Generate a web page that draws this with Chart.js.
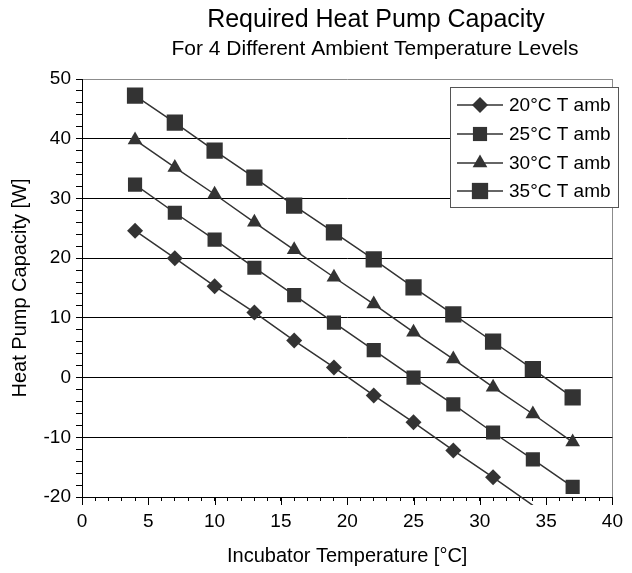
<!DOCTYPE html>
<html>
<head>
<meta charset="utf-8">
<script src="https://cdn.jsdelivr.net/npm/chart.js@4/dist/chart.umd.min.js"></script>
<style>
  html, body { margin: 0; padding: 0; background: #ffffff; }
  #wrap { width: 632px; height: 573px; }
</style>
</head>
<body>
<div id="wrap"><canvas id="c" width="632" height="573"></canvas></div>
<script>
// ---- data ----
const xTemps = [4, 7, 10, 13, 16, 19, 22, 25, 28, 31, 34, 37];
const amb20 = [24.6, 20.0, 15.3, 10.9, 6.2, 1.7, -3.0, -7.5, -12.2, -16.7, -21.4];
const amb25 = [32.3, 27.6, 23.1, 18.4, 13.8, 9.2, 4.6, 0.0, -4.5, -9.2, -13.7, -18.3];
const amb30 = [39.8, 35.2, 30.7, 26.0, 21.4, 16.8, 12.3, 7.6, 3.1, -1.6, -6.1, -10.8];
const amb35 = [47.2, 42.7, 38.0, 33.5, 28.8, 24.3, 19.8, 15.1, 10.6, 6.0, 1.4, -3.3];
const seriesLabels = ['20°C T amb', '25°C T amb', '30°C T amb', '35°C T amb'];
const xTickLabels = [0, 5, 10, 15, 20, 25, 30, 35, 40];
const yTickLabels = [-20, -10, 0, 10, 20, 30, 40, 50];
const titleText = 'Required Heat Pump Capacity';
const subtitleText = 'For 4 Different Ambient Temperature Levels';
const xTitle = 'Incubator Temperature [°C]';
const yTitle = 'Heat Pump Capacity [W]';

const FONT = '"Liberation Sans", Arial, sans-serif';
const INK = '#333333';

function pts(vals) { return vals.map((v, i) => ({ x: xTemps[i], y: v })); }

const styles = [
  { pointStyle: 'rectRot', radius: 8 },
  { pointStyle: 'rect', radius: 10 },
  { pointStyle: 'triangle', radius: 8.5 },
  { pointStyle: 'rect', radius: 11.5 }
];
const allSeries = [amb20, amb25, amb30, amb35];

const datasets = allSeries.map((vals, i) => ({
  label: seriesLabels[i],
  data: pts(vals),
  borderColor: INK,
  borderWidth: 1.5,
  backgroundColor: INK,
  pointBackgroundColor: INK,
  pointBorderColor: INK,
  pointBorderWidth: 0,
  pointStyle: styles[i].pointStyle,
  pointRadius: (ctx) => (ctx.raw && ctx.raw.y < -20 ? 0 : styles[i].radius),
  pointHoverRadius: styles[i].radius,
  tension: 0,
  fill: false,
  clip: { left: 20, top: 20, right: 20, bottom: 8 }
}));

function drawMarker(ctx, style, r, x, y) {
  ctx.beginPath();
  if (style === 'rect') {
    const s = Math.SQRT1_2 * r;
    ctx.rect(x - s, y - s, 2 * s, 2 * s);
  } else if (style === 'rectRot') {
    ctx.moveTo(x, y - r); ctx.lineTo(x + r, y); ctx.lineTo(x, y + r); ctx.lineTo(x - r, y); ctx.closePath();
  } else if (style === 'triangle') {
    let a = -Math.PI / 2;
    ctx.moveTo(x + Math.cos(a) * r, y + Math.sin(a) * r);
    a += 2 * Math.PI / 3; ctx.lineTo(x + Math.cos(a) * r, y + Math.sin(a) * r);
    a += 2 * Math.PI / 3; ctx.lineTo(x + Math.cos(a) * r, y + Math.sin(a) * r);
    ctx.closePath();
  }
  ctx.fill();
}

const decorPlugin = {
  id: 'decor',
  afterDraw(chart) {
    const ctx = chart.ctx;
    const xs = chart.scales.x;
    // longer major ticks on x axis
    ctx.save();
    ctx.strokeStyle = '#000';
    ctx.lineWidth = 1;
    xTickLabels.forEach(v => {
      const px = Math.round(xs.getPixelForValue(v)) + 0.5;
      ctx.beginPath();
      ctx.moveTo(px, chart.chartArea.bottom);
      ctx.lineTo(px, chart.chartArea.bottom + 8);
      ctx.stroke();
    });
    ctx.restore();

    // titles
    ctx.save();
    ctx.fillStyle = '#000';
    ctx.textAlign = 'center';
    ctx.textBaseline = 'middle';
    ctx.font = '25px ' + FONT;
    ctx.fillText(titleText, 376, 20);
    ctx.font = '21px ' + FONT;
    ctx.fillText(subtitleText, 375, 49);
    ctx.restore();

    // legend
    const L = 450, T = 87, R = 618, B = 207;
    ctx.save();
    ctx.fillStyle = '#fff';
    ctx.fillRect(L, T, R - L, B - T);
    ctx.strokeStyle = '#555';
    ctx.lineWidth = 1;
    ctx.strokeRect(L + 0.5, T + 0.5, R - L, B - T);
    const rowY = [105, 134, 163, 191];
    ctx.font = '19px ' + FONT;
    ctx.textBaseline = 'middle';
    ctx.textAlign = 'left';
    seriesLabels.forEach((lab, i) => {
      const y = rowY[i];
      ctx.strokeStyle = INK;
      ctx.lineWidth = 1.5;
      ctx.beginPath();
      ctx.moveTo(457, y); ctx.lineTo(503, y);
      ctx.stroke();
      ctx.fillStyle = INK;
      drawMarker(ctx, styles[i].pointStyle, styles[i].radius, 480, y);
      ctx.fillStyle = '#000';
      ctx.fillText(lab, 509, y + 1);
    });
    ctx.restore();
  }
};

new Chart(document.getElementById('c'), {
  type: 'line',
  data: { datasets },
  plugins: [decorPlugin],
  options: {
    responsive: false,
    animation: false,
    events: [],
    layout: { padding: { top: 79, right: 12, left: 0, bottom: 0 } },
    plugins: {
      legend: { display: false },
      title: { display: false },
      tooltip: { enabled: false }
    },
    scales: {
      x: {
        type: 'linear',
        min: 0, max: 40,
        afterFit: (s) => { s.height = 76; },
        ticks: {
          stepSize: 1,
          autoSkip: false,
          maxRotation: 0,
          padding: 9,
          color: '#000',
          font: { family: FONT, size: 19 },
          callback: (v) => (xTickLabels.includes(v) ? String(v) : '')
        },
        grid: {
          drawOnChartArea: true,
          color: (c) => (c.tick && c.tick.value === 40 ? '#8c8c8c' : 'rgba(0,0,0,0)'),
          tickColor: '#000',
          tickLength: 4,
          lineWidth: 1
        },
        border: { display: true, color: '#000', width: 1 },
        title: {
          display: true, text: xTitle, color: '#000',
          font: { family: FONT, size: 20 },
          padding: { top: 4, bottom: 5 }
        }
      },
      y: {
        type: 'linear',
        min: -20, max: 50,
        afterFit: (s) => { s.width = 82; },
        ticks: {
          stepSize: 2,
          autoSkip: false,
          padding: 5,
          color: '#000',
          font: { family: FONT, size: 19 },
          callback: (v) => (yTickLabels.includes(v) ? String(v) : '')
        },
        grid: {
          color: (c) => {
            if (!c.tick) return 'rgba(0,0,0,0)';
            const v = c.tick.value;
            if (v === 50) return '#8c8c8c';
            return (v % 10 === 0) ? '#000' : 'rgba(0,0,0,0)';
          },
          tickColor: '#000',
          tickLength: 6,
          lineWidth: 1
        },
        border: { display: true, color: '#000', width: 1 },
        title: {
          display: true, text: yTitle, color: '#000',
          font: { family: FONT, size: 20 },
          padding: { top: 8, bottom: 6 }
        }
      }
    }
  }
});
</script>
</body>
</html>
